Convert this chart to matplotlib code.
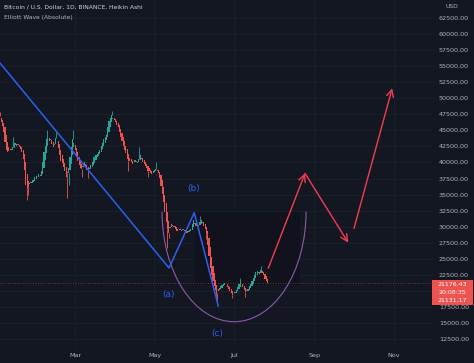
import numpy as np
import matplotlib
matplotlib.use('Agg')
import matplotlib.pyplot as plt
import matplotlib.dates as mdates
from matplotlib.patches import Rectangle, Arc

# heikin ashi closes, daily from 2022-01-01, in thousand USD
ha_close = [
    47.0, 46.6, 46.3, 45.6, 44.8, 43.2, 42.0, 41.6, 41.8, 42.0,
    41.9, 42.4, 43.1, 43.0, 42.6, 42.8, 42.4, 42.1, 41.6, 40.6,
    38.8, 36.5, 35.9, 36.2, 36.8, 36.9, 37.2, 37.3, 37.7, 37.9,
    37.8, 38.2, 37.9, 38.6, 40.0, 41.6, 42.6, 43.6, 44.0, 43.8,
    43.5, 42.8, 42.4, 42.9, 43.8, 43.4, 42.3, 41.2, 40.3, 39.9,
    39.3, 38.6, 37.7, 38.3, 39.2, 40.8, 42.4, 43.6, 43.1, 41.9,
    40.8, 40.2, 39.6, 39.2, 39.0, 39.5, 40.1, 39.4, 38.9, 38.6,
    39.1, 39.6, 40.0, 40.3, 40.8, 41.2, 41.3, 41.6, 42.0, 42.5,
    43.0, 43.6, 43.9, 44.3, 45.5, 46.4, 46.9, 47.4, 47.0, 46.6,
    46.3, 45.9, 45.5, 44.7, 43.9, 43.3, 42.6, 42.0, 41.5, 40.6,
    40.2, 40.3, 40.0, 39.8, 40.1, 40.4, 40.0, 39.9, 40.6, 41.2,
    40.6, 40.1, 39.8, 39.5, 39.2, 38.7, 38.6, 38.4, 38.2, 38.6,
    38.8, 39.0, 38.7, 38.3, 37.6, 36.4, 35.1, 33.8, 32.3, 30.8,
    29.6, 29.0, 29.8, 30.4, 30.1, 30.0, 29.7, 29.3, 29.4, 29.7,
    29.5, 29.3, 29.6, 29.4, 29.1, 29.0, 29.3, 29.5, 29.6, 30.4,
    31.0, 30.6, 30.1, 30.0, 30.2, 30.8, 31.1, 30.5, 30.1, 29.6,
    28.8, 27.2, 25.4, 23.6, 22.4, 21.6, 20.8, 20.1, 19.6, 20.0,
    20.5, 20.7, 20.9, 21.1, 21.3, 21.0, 20.6, 20.3, 20.0, 19.7,
    19.4, 19.6, 19.8, 20.2, 20.6, 21.0, 21.4, 21.1, 20.6, 20.1,
    19.8, 19.9, 20.3, 20.7, 21.0, 21.5, 22.0, 22.5, 22.9, 23.1,
    23.0, 22.7, 23.3, 22.8, 22.4, 21.9, 21.5, 21.18,
]
first_open = 47.5

# visible wicks (day index, value in k)
hi_days = [1, 11, 37, 44, 57, 73, 87, 108, 121, 155, 186, 202]
hi_vals = [47.8, 44.0, 45.0, 44.8, 45.0, 41.0, 48.0, 42.4, 40.0, 31.6, 22.0, 23.8]
lo_days = [4, 22, 23, 53, 54, 64, 69, 100, 115, 130, 131, 160, 167, 168, 180, 190]
lo_vals = [43.8, 34.2, 35.0, 34.4, 36.5, 37.8, 37.6, 38.6, 37.8, 26.7, 28.2, 28.0, 18.8, 18.4, 18.9, 19.0]

# elliott wave (day, value)
wave_days = [1.1, 131.2, 150.6, 169.1]
wave_vals = [55500, 23560, 32170, 17630]
wave_labels = ['(a)', '(b)', '(c)']
label_days = [131.0, 150.4, 168.0]
label_vals = [19500, 36010, 13350]

# projected path arrows (start day, start val, end day, end val)
arrows = [
    (207.5, 23500, 235.8, 38300),
    (235.8, 38300, 269.1, 27500),
    (273.5, 29740, 302.9, 51550),
]

# arc drawing: center day, center value, width (days), height (value)
arc_center = (181.2, 32330)
arc_size = (110.8, 34280)

last_price = 21176.43
price_texts = ['21176.43', '20:08:35', '21131.17']
y_ticks = [v for v in range(12500, 62501, 2500) if v != 20000]
x_ticks = ['2022-03-01', '2022-05-01', '2022-07-01', '2022-09-01', '2022-11-01']
x_names = ['Mar', 'May', 'Jul', 'Sep', 'Nov']

BG = '#131722'
GRID = '#1c202b'
UP = '#26a69a'
DOWN = '#ef5350'
BLUE = '#2f5ff0'
ARROW = '#f23d55'
TXT = '#b2b5be'

base = mdates.date2num(np.datetime64('2022-01-01'))

c = np.array(ha_close) * 1000
o = np.empty_like(c)
o[0] = first_open * 1000
for i in range(1, len(c)):
    o[i] = (o[i-1] + c[i-1]) / 2
xd = base + np.arange(len(c))

W, H = 474, 363
fig = plt.figure(figsize=(W/100, H/100), dpi=100, facecolor=BG)
ax = fig.add_axes([0, 1 - 347/H, 432/W, 347/H])
ax.set_facecolor(BG)

ax.set_xlim(base + 1.15, base + 333.5)
ax.set_ylim(11254, 65304)

for v in range(12500, 62501, 2500):
    ax.axhline(v, color=GRID, lw=0.6, zorder=0)
for d in x_ticks:
    ax.axvline(mdates.date2num(np.datetime64(d)), color=GRID, lw=0.6, zorder=0)

# darker zone
ax.add_patch(Rectangle((base + 151, 20920), 81, 11370, color='#10131c', lw=0, zorder=0.5))

# candles
for i in range(len(c)):
    col = UP if c[i] >= o[i] else DOWN
    lo, hi = min(o[i], c[i]), max(o[i], c[i])
    ax.add_patch(Rectangle((xd[i] - 0.45, lo), 0.9, max(hi - lo, 80), color=col, lw=0, zorder=3))
for d, v in zip(hi_days, hi_vals):
    col = UP if c[d] >= o[d] else DOWN
    ax.vlines(xd[d], max(o[d], c[d]), v*1000, color=col, lw=0.6, zorder=2)
for d, v in zip(lo_days, lo_vals):
    col = UP if c[d] >= o[d] else DOWN
    ax.vlines(xd[d], v*1000, min(o[d], c[d]), color=col, lw=0.6, zorder=2)

# price line
ax.axhline(last_price, color=DOWN, lw=0.6, ls=(0, (1, 2)), alpha=0.6, zorder=1)

# arc
ax.add_patch(Arc((base + arc_center[0], arc_center[1]), arc_size[0], arc_size[1],
                 theta1=180, theta2=360, color='#8d5aa8', lw=0.8, zorder=4))

# elliott wave
ax.plot(base + np.array(wave_days), wave_vals, color=BLUE, lw=1.1, zorder=5)
for t, d, v in zip(wave_labels, label_days, label_vals):
    ax.text(base + d, v, t, color=BLUE, fontsize=6.5, ha='center', va='center', zorder=6)

for x0, y0, x1, y1 in arrows:
    ax.annotate('', xy=(base + x1, y1), xytext=(base + x0, y0),
                arrowprops=dict(arrowstyle='->,head_length=0.5,head_width=0.25',
                                color=ARROW, lw=1.0, shrinkA=0, shrinkB=0), zorder=6)

ax.yaxis.tick_right()
ax.set_yticks(y_ticks)
ax.set_yticklabels(['%.2f' % v for v in y_ticks])
ax.set_xticks([mdates.date2num(np.datetime64(d)) for d in x_ticks])
ax.set_xticklabels(x_names)
ax.tick_params(axis='both', length=0, colors=TXT, labelsize=4.6)
ax.tick_params(axis='y', pad=5)
ax.tick_params(axis='x', pad=4.5)
ax.grid(False)
for s in ax.spines.values():
    s.set_visible(False)

# header
fig.text(4/W, 1 - 7/H, 'Bitcoin / U.S. Dollar, 1D, BINANCE, Heikin Ashi', color='#d1d4dc',
         fontsize=4.3, va='center')
fig.text(4/W, 1 - 17/H, 'Elliott Wave (Absolute)', color=TXT, fontsize=4.3, va='center')
fig.text(446/W, 1 - 6/H, 'USD', color=TXT, fontsize=4.3, va='center')

# last price tag
fig.patches.append(Rectangle((432/W, 1 - 305/H), 41/W, 25/H, transform=fig.transFigure,
                             color=DOWN, lw=0, zorder=5))
for t, yy in zip(price_texts, [284.5, 292.5, 300.5]):
    fig.text(452.5/W, 1 - yy/H, t, color='white', fontsize=4.5, ha='center', va='center', zorder=6)

fig.savefig('out.png', dpi=100, facecolor=BG)
